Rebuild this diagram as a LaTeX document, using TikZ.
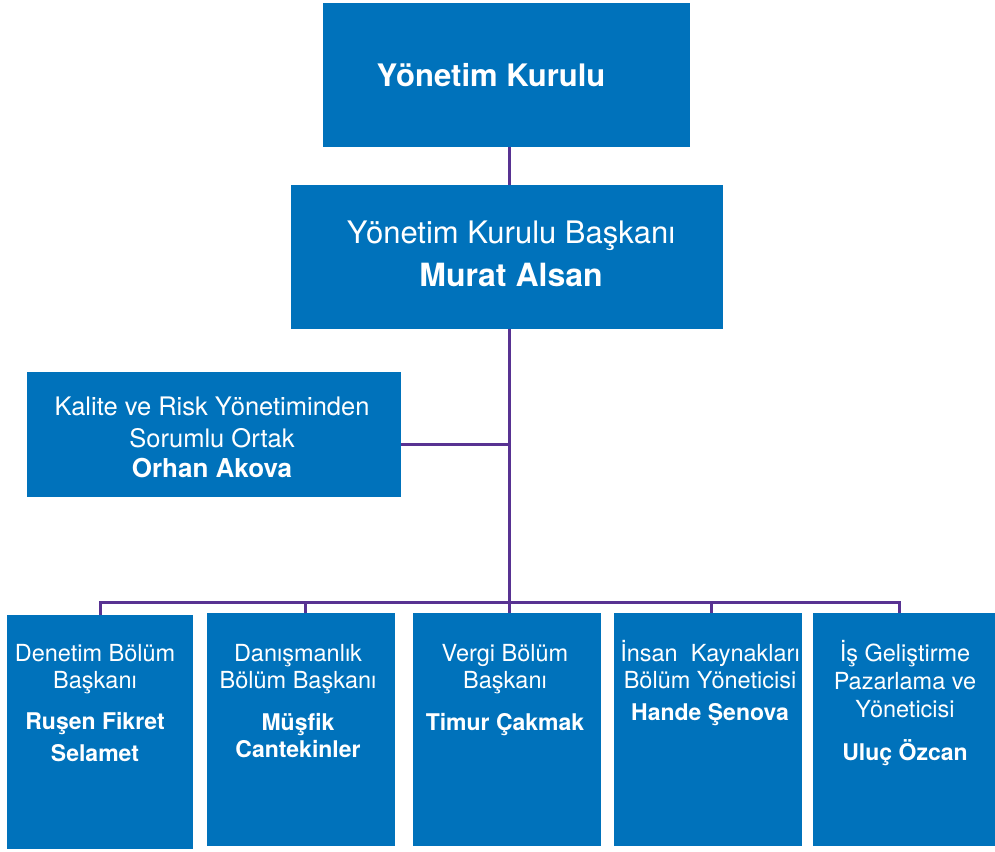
\documentclass[tikz,border=0pt]{standalone}
\usepackage{fontspec}
\setmainfont{TeX Gyre Heros}
\definecolor{boxblue}{RGB}{0,114,187}
\definecolor{linepurple}{RGB}{88,50,146}
\begin{document}
\begin{tikzpicture}[x=1pt,y=-1pt,
  box/.style={fill=boxblue, draw=none, inner sep=0pt, outer sep=0pt, anchor=north west},
  txt/.style={text=white, inner sep=0pt, anchor=base},
  conn/.style={draw=linepurple, line width=3pt},
  fs/.style={font=\fontsize{#1}{#1}\selectfont},
  bf/.style={font=\fontsize{#1}{#1}\selectfont\bfseries}]
\useasboundingbox (0,0) rectangle (995,851);

% boxes
\node[box, minimum width=367pt, minimum height=144pt] (kurul) at (323,3) {};
\node[box, minimum width=432pt, minimum height=144pt] (baskan) at (291,185) {};
\node[box, minimum width=374pt, minimum height=125pt] (kalite) at (27,372) {};
\node[box, minimum width=186pt, minimum height=234pt] (b1) at (7,615) {};
\node[box, minimum width=188pt, minimum height=233pt] (b2) at (207,613) {};
\node[box, minimum width=188pt, minimum height=233pt] (b3) at (413,613) {};
\node[box, minimum width=188pt, minimum height=233pt] (b4) at (614,613) {};
\node[box, minimum width=182pt, minimum height=233pt] (b5) at (813,613) {};

% connectors
\coordinate (spine) at (509,0);
\coordinate (kj) at (509,444);
\coordinate (d1) at (100,602);
\coordinate (d2) at (305,602);
\coordinate (d3) at (509,602);
\coordinate (d4) at (711,602);
\coordinate (d5) at (899,602);
\draw[conn] (kurul.south -| spine) -- (baskan.north -| spine);
\draw[conn] (baskan.south -| spine) -- (d3);
\draw[conn] (kj -| kalite.east) -- (kj);
\draw[conn] (d1 |- b1.north) -- (d1) -- (d5) -- (d5 |- b5.north);
\draw[conn] (d2) -- (d2 |- b2.north);
\draw[conn] (d3) -- (d3 |- b3.north);
\draw[conn] (d4) -- (d4 |- b4.north);

% texts
\node[txt, bf=31] (kurult) at (491,86) {Yönetim Kurulu};
\node[txt, fs=31] (baskant) at (511,243) {Yönetim Kurulu Başkanı};
\node[txt, bf=32] (baskann) at (511,286) {Murat Alsan};

\node[txt, fs=25.5] (kalt1) at (212,415) {Kalite ve Risk Yönetiminden};
\node[txt, fs=25.5] (kalt2) at (212,447) {Sorumlu Ortak};
\node[txt, bf=26] (kaln) at (212,477) {Orhan Akova};

\node[txt, fs=23.5] (b1t1) at (95,661) {Denetim Bölüm};
\node[txt, fs=23.5] (b1t2) at (95,688) {Başkanı};
\node[txt, bf=23] (b1n1) at (95,729) {Ruşen Fikret};
\node[txt, bf=23] (b1n2) at (95,761) {Selamet};

\node[txt, fs=23.5] (b2t1) at (298,661) {Danışmanlık};
\node[txt, fs=23.5] (b2t2) at (298,688) {Bölüm Başkanı};
\node[txt, bf=23] (b2n1) at (298,730) {Müşfik};
\node[txt, bf=23] (b2n2) at (298,757) {Cantekinler};

\node[txt, fs=23.5] (b3t1) at (505,661) {Vergi Bölüm};
\node[txt, fs=23.5] (b3t2) at (505,688) {Başkanı};
\node[txt, bf=23] (b3n1) at (505,730) {Timur Çakmak};

\node[txt, fs=23.5] (b4t1) at (710,661) {İnsan\ \ Kaynakları};
\node[txt, fs=23.5] (b4t2) at (710,688) {Bölüm Yöneticisi};
\node[txt, bf=23] (b4n1) at (710,720) {Hande Şenova};

\node[txt, fs=23.5] (b5t1) at (905,661) {İş Geliştirme};
\node[txt, fs=23.5] (b5t2) at (905,689) {Pazarlama ve};
\node[txt, fs=23.5] (b5t3) at (905,717) {Yöneticisi};
\node[txt, bf=23] (b5n1) at (905,760) {Uluç Özcan};
\end{tikzpicture}
\end{document}
